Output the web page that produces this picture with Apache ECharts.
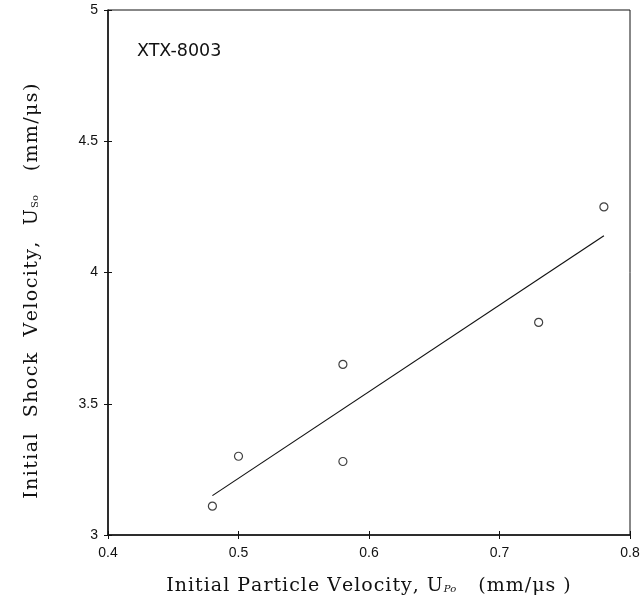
<!DOCTYPE html>
<html><head><meta charset="utf-8">
<script src="https://cdn.jsdelivr.net/npm/echarts@6/dist/echarts.min.js"></script>
<style>html,body{margin:0;padding:0;background:#fff}#c{width:642px;height:605px}</style>
</head><body><div id="c"></div>
<script>
var particleVelocity = [0.48, 0.50, 0.58, 0.58, 0.73, 0.78];
var shockVelocity = [3.11, 3.30, 3.65, 3.28, 3.81, 4.25];
var fitX = [0.48, 0.78];
var fitY = [3.15, 4.14];
var xTicks = [0.4, 0.5, 0.6, 0.7, 0.8];
var yTicks = [3, 3.5, 4, 4.5, 5];
var label = 'XTX-8003';
var xTitle = ['Initial Particle Velocity, U', 'Po', '   (mm/μs )'];
var yTitle = ['Initial  Shock  Velocity,  U', 'So', '   (mm/μs)'];

var pts = particleVelocity.map(function(x, i){ return [x, shockVelocity[i]]; });
var fit = fitX.map(function(x, i){ return [x, fitY[i]]; });

var chart = echarts.init(document.getElementById('c'));
var serif = '"DejaVu Serif", "Liberation Serif", serif';
var sans = '"Liberation Sans", Arial, sans-serif';
var ink = '#111';
function tracked(s, cls){
  return s.split('').map(function(ch){ return '{' + cls + '|' + ch + '}'; }).join('');
}
function titleText(parts){
  return tracked(parts[0], 't') + '{s|' + parts[1] + '}' + tracked(parts[2], 't');
}
function richSet(track, sub){
  return {
    t: {fontFamily: serif, fontSize: 19, color: ink, lineHeight: 24, padding: [0, track, 0, 0]},
    s: {fontFamily: serif, fontSize: 10, color: ink, fontStyle: sub, lineHeight: 10,
        verticalAlign: 'top', padding: [10, track, 0, 0]}
  };
}
var baseX = {
  type: 'value', min: xTicks[0], max: xTicks[xTicks.length-1], interval: 0.1,
  splitLine: {show: false}
};
var baseY = {
  type: 'value', min: yTicks[0], max: yTicks[yTicks.length-1], interval: 0.5,
  splitLine: {show: false}
};
chart.setOption({
  animation: false,
  backgroundColor: '#fff',
  title: {text: label, left: 137, top: 42, padding: 0,
    textStyle: {fontFamily: '"DejaVu Sans", sans-serif', fontSize: 17.5, fontWeight: 'normal', color: ink}},
  grid: {left: 108, right: 12, top: 10, bottom: 70, show: true, borderColor: ink, borderWidth: 1,
    outerBoundsMode: 'none', containLabel: false},
  xAxis: [
    Object.assign({}, baseX, {
      axisLine: {lineStyle: {color: ink, width: 1.5}},
      axisTick: {show: true, length: 4, lineStyle: {color: ink}},
      axisLabel: {color: ink, fontFamily: sans, fontSize: 14, margin: 11,
        formatter: function(v){ return String(Math.round(v*10)/10); }},
      name: titleText(xTitle),
      nameLocation: 'middle', nameGap: 39,
      nameTextStyle: {rich: richSet(1, 'italic')}
    }),
    Object.assign({}, baseX, {
      position: 'bottom',
      axisLine: {show: false},
      axisTick: {show: true, inside: true, length: 4, lineStyle: {color: ink}},
      axisLabel: {show: false}
    })
  ],
  yAxis: [
    Object.assign({}, baseY, {
      axisLine: {lineStyle: {color: ink, width: 1.5}},
      axisTick: {show: true, length: 4, lineStyle: {color: ink}},
      axisLabel: {color: ink, fontFamily: sans, fontSize: 14, margin: 10},
      name: titleText(yTitle),
      nameLocation: 'middle', nameGap: 64, nameRotate: 90,
      nameTextStyle: {rich: richSet(1.4, 'normal'), padding: [0, 36, 0, 0]}
    }),
    Object.assign({}, baseY, {
      position: 'left',
      axisLine: {show: false},
      axisTick: {show: true, inside: true, length: 4, lineStyle: {color: ink}},
      axisLabel: {show: false}
    })
  ],
  series: [
    {type: 'scatter', data: pts, symbol: 'circle', symbolSize: 8,
     itemStyle: {color: '#fff', borderColor: ink, borderWidth: 1.2}, z: 3},
    {type: 'line', data: fit, symbol: 'none', lineStyle: {color: ink, width: 1.2}, z: 2}
  ]
});
</script></body></html>
